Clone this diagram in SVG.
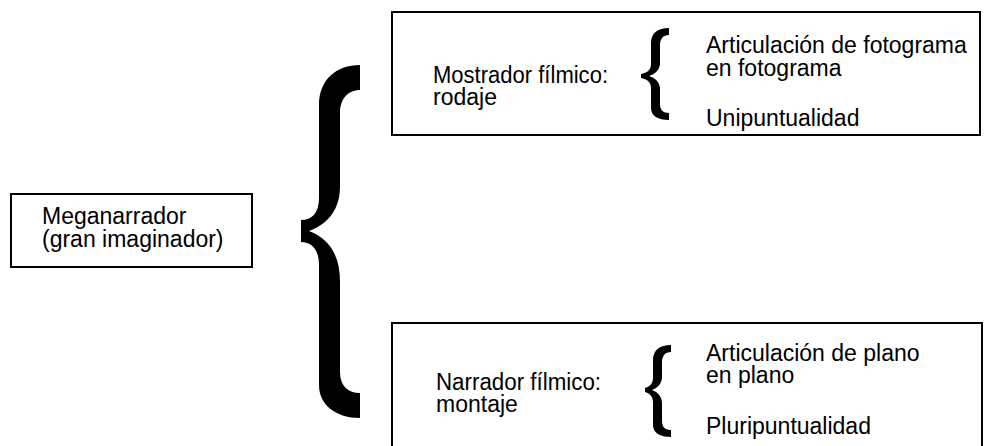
<svg xmlns="http://www.w3.org/2000/svg" width="997" height="446" viewBox="0 0 997 446">
<style>
.box{fill:none;stroke:#000;stroke-width:2}
.t{font-family:"Liberation Sans",Arial,Helvetica,sans-serif;font-size:23px;fill:#000}
.br{fill:#000;stroke:none}
</style>
<rect width="997" height="446" fill="#fff"/>
<g id="connectors">
<path class="br" d="M360,65 C336,65 319,80 319,105 L319,198 C319,213 312,220 301,220 L301,242 C312,242 319,250 319,265 L319,385 C319,405 336,418 360,418 L360,393 C348,393 340,386 340,372 L340,282 C340,256 330,239 309,231 C330,223 340,208 340,186 L340,113 C340,99 348,90 360,90 Z"/>
<path class="br" d="M669,28 C658,28 651,33 651,43 L651,64 C651,70 647,73 641,74 L641,78 C647,79 651,82 651,88 L651,108 C651,116 658,120 669,120 L669,113 C663,113 660,110 660,104 L660,89 C660,83 656,78 649,76 C656,74 660,69 660,63 L660,45 C660,39 663,35 669,35 Z"/>
<path class="br" d="M671,345 C660,345 653,350 653,360 L653,378 C653,384 649,387 645,388 L645,392 C649,393 653,396 653,402 L653,425 C653,433 660,437 671,437 L671,430 C665,430 662,427 662,421 L662,403 C662,397 658,392 652,390 C658,388 662,383 662,377 L662,362 C662,356 665,352 671,352 Z"/>
</g>
<g id="meganarrador">
<rect class="box" x="11" y="194" width="241" height="73"/>
<text class="t" x="42" y="224">Meganarrador</text>
<text class="t" x="42" y="247">(gran imaginador)</text>
</g>
<g id="mostrador">
<rect class="box" x="392" y="12" width="588" height="123"/>
<text class="t" x="433" y="83" textLength="175" lengthAdjust="spacingAndGlyphs">Mostrador fílmico:</text>
<text class="t" x="433" y="105">rodaje</text>
<text class="t" x="706" y="53">Articulación de fotograma</text>
<text class="t" x="706" y="76">en fotograma</text>
<text class="t" x="706" y="126">Unipuntualidad</text>
</g>
<g id="narrador">
<rect class="box" x="392" y="323" width="590" height="140"/>
<text class="t" x="436" y="390" textLength="165" lengthAdjust="spacingAndGlyphs">Narrador fílmico:</text>
<text class="t" x="436" y="412">montaje</text>
<text class="t" x="706" y="361">Articulación de plano</text>
<text class="t" x="706" y="383">en plano</text>
<text class="t" x="706" y="434">Pluripuntualidad</text>
</g>
</svg>
